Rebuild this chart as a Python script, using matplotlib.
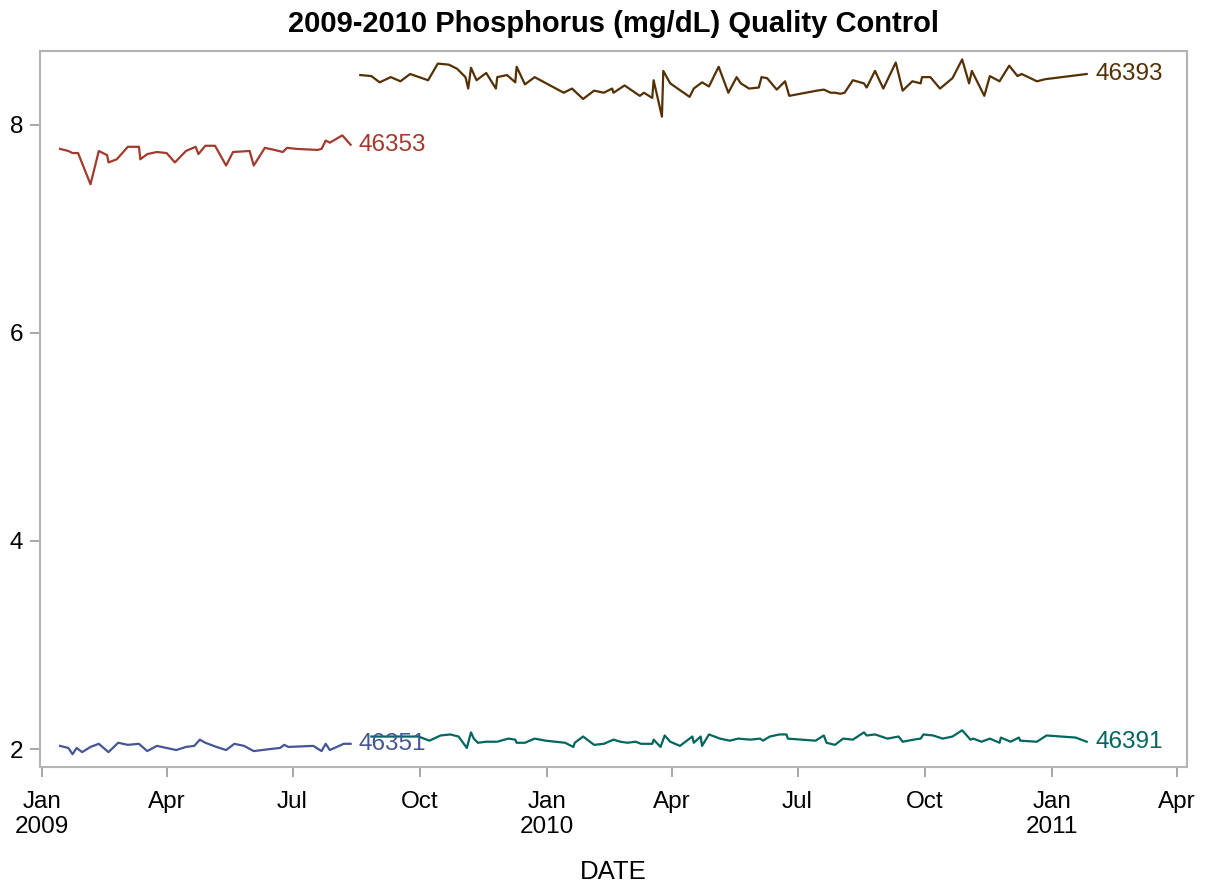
import numpy as np
import pandas as pd
import matplotlib
matplotlib.use("Agg")
import matplotlib.pyplot as plt
import matplotlib.dates as mdates

plt.rcParams['font.family'] = ['Liberation Sans', 'DejaVu Sans']

# days counted from 2009-01-01
start = pd.Timestamp("2009-01-01")

days_46353 = [13, 19, 22, 26, 35, 41, 47, 48, 54, 62, 70, 71, 76, 83, 90, 96, 104, 111,
              113, 118, 125, 133, 138, 150, 153, 161, 168, 174, 177, 184, 199, 202, 205,
              208, 217, 223]
vals_46353 = [7.77, 7.75, 7.73, 7.73, 7.43, 7.75, 7.71, 7.64, 7.67, 7.79, 7.79, 7.67, 7.72,
              7.74, 7.73, 7.64, 7.75, 7.79, 7.72, 7.80, 7.80, 7.61, 7.74, 7.75, 7.61, 7.78,
              7.76, 7.74, 7.78, 7.77, 7.76, 7.77, 7.85, 7.83, 7.90, 7.81]

days_46351 = [13, 19, 22, 25, 29, 35, 41, 48, 55, 62, 70, 76, 83, 90, 97, 104, 110, 114,
              118, 126, 133, 139, 146, 153, 165, 172, 175, 178, 196, 202, 205, 208, 213,
              218, 223]
vals_46351 = [2.03, 2.01, 1.95, 2.01, 1.97, 2.02, 2.05, 1.97, 2.06, 2.04, 2.05, 1.98, 2.03,
              2.01, 1.99, 2.02, 2.03, 2.09, 2.06, 2.02, 1.99, 2.05, 2.03, 1.98, 2.00, 2.01,
              2.04, 2.02, 2.03, 1.98, 2.05, 1.99, 2.02, 2.05, 2.05]

days_46393 = [230, 238, 244, 252, 259, 266, 279, 286, 294, 300, 306, 308, 310, 314, 321,
              328, 329, 336, 342, 343, 349, 356, 377, 383, 391, 399, 406, 412, 413, 421,
              432, 435, 441, 442, 448, 449, 454, 468, 471, 477, 482, 489, 496, 502, 505,
              511, 518, 520, 524, 531, 537, 540, 560, 565, 570, 573, 577, 580, 586, 594,
              596, 602, 608, 617, 622, 629, 635, 636, 642, 649, 658, 665, 670, 672, 681,
              685, 692, 699, 705, 708, 719, 725, 755]
vals_46393 = [8.48, 8.47, 8.41, 8.46, 8.42, 8.49, 8.43, 8.59, 8.58, 8.54, 8.46, 8.35, 8.55,
              8.43, 8.50, 8.35, 8.46, 8.48, 8.41, 8.56, 8.39, 8.46, 8.31, 8.35, 8.25, 8.33,
              8.31, 8.35, 8.31, 8.38, 8.28, 8.31, 8.26, 8.43, 8.08, 8.52, 8.40, 8.27, 8.35,
              8.41, 8.37, 8.56, 8.31, 8.46, 8.40, 8.35, 8.36, 8.46, 8.45, 8.34, 8.42, 8.28,
              8.33, 8.34, 8.31, 8.31, 8.30, 8.31, 8.43, 8.40, 8.36, 8.52, 8.35, 8.60, 8.33,
              8.42, 8.40, 8.46, 8.46, 8.35, 8.45, 8.63, 8.40, 8.52, 8.28, 8.47, 8.42, 8.57,
              8.47, 8.49, 8.42, 8.44, 8.49]

days_46391 = [238, 272, 280, 288, 295, 301, 307, 310, 312, 315, 321, 329, 337, 342, 343,
              349, 356, 364, 378, 384, 385, 391, 399, 406, 413, 418, 423, 429, 433, 441,
              442, 447, 450, 454, 461, 470, 471, 476, 477, 482, 490, 497, 503, 512, 519,
              521, 526, 533, 538, 539, 559, 565, 567, 573, 579, 586, 594, 596, 602, 611,
              619, 622, 630, 635, 637, 644, 651, 658, 665, 671, 673, 679, 685, 692, 693,
              700, 706, 707, 719, 726, 747, 755]
vals_46391 = [2.12, 2.12, 2.08, 2.13, 2.14, 2.12, 2.01, 2.16, 2.10, 2.06, 2.07, 2.07, 2.10,
              2.09, 2.06, 2.06, 2.10, 2.08, 2.06, 2.02, 2.06, 2.12, 2.04, 2.05, 2.09, 2.07,
              2.06, 2.07, 2.05, 2.05, 2.09, 2.02, 2.13, 2.07, 2.03, 2.12, 2.06, 2.12, 2.03,
              2.14, 2.10, 2.08, 2.10, 2.09, 2.10, 2.08, 2.12, 2.14, 2.14, 2.10, 2.08, 2.13,
              2.06, 2.04, 2.10, 2.09, 2.16, 2.13, 2.14, 2.10, 2.12, 2.07, 2.09, 2.10, 2.14,
              2.13, 2.10, 2.12, 2.18, 2.09, 2.10, 2.07, 2.10, 2.06, 2.11, 2.07, 2.11, 2.08,
              2.07, 2.13, 2.11, 2.07]

series = [
    ("46351", days_46351, vals_46351, '#445694'),
    ("46353", days_46353, vals_46353, '#A23A2E'),
    ("46391", days_46391, vals_46391, '#01665E'),
    ("46393", days_46393, vals_46393, '#543005'),
]

tick_dates = pd.date_range("2009-01-01", "2011-04-01", freq="QS")
tick_labels = [d.strftime("%b") + ("\n" + d.strftime("%Y") if d.month == 1 else "")
               for d in tick_dates]

fig = plt.figure(figsize=(12.07, 8.86), dpi=100)
ax = fig.add_axes([40 / 1207, 1 - 767 / 886, 1147 / 1207, 716.5 / 886])

for name, days, vals, col in series:
    x = start + pd.to_timedelta(days, unit="D")
    ax.plot(x, vals, color=col, lw=1.6)
    ax.annotate(name, (x[-1], vals[-1]), xytext=(6, 0), textcoords='offset points',
                color=col, fontsize=17.5, va='center', ha='left')

ax.set_xlim(start - pd.Timedelta(days=1.5), start + pd.Timedelta(days=827.5))
ax.set_ylim(1.827, 8.716)
ax.set_xticks(tick_dates)
ax.set_xticklabels(tick_labels)
ax.set_yticks([2, 4, 6, 8])

for s in ax.spines.values():
    s.set_color('#b4b4b4')
    s.set_linewidth(1.5)
ax.tick_params(axis='both', colors='#a0a0a0', labelcolor='black', labelsize=17.5,
               length=7, width=1.3)
ax.tick_params(axis='x', pad=10)
ax.tick_params(axis='y', pad=5)

ax.set_title("2009-2010 Phosphorus (mg/dL) Quality Control", fontsize=21,
             fontweight='bold', pad=13)
fig.text(613.5 / 1207, 1 - 879 / 886, "DATE", ha='center', va='baseline', fontsize=18.5)

fig.savefig("out.png", dpi=100)
